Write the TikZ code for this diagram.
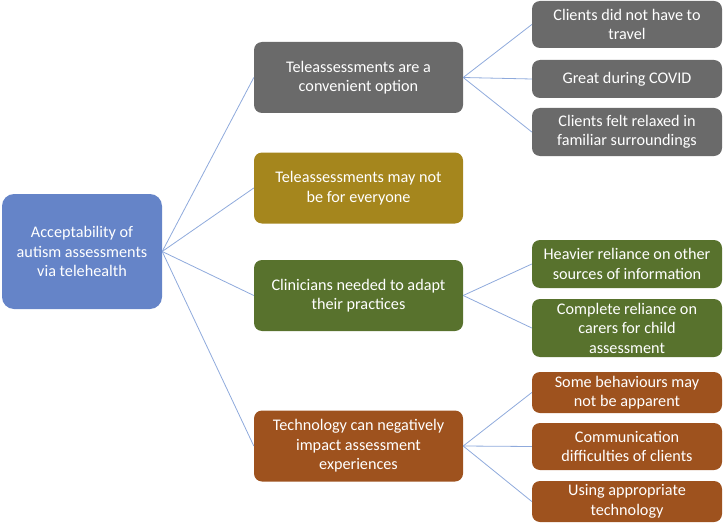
\documentclass[tikz,border=0pt]{standalone}
\usepackage{fontspec}
\setmainfont{Carlito}
\usepackage{tikz}
\usetikzlibrary{calc}
\definecolor{rootblue}{HTML}{6584C8}
\definecolor{convgray}{HTML}{6A6A6A}
\definecolor{mustard}{HTML}{A5861D}
\definecolor{adaptgreen}{HTML}{58722D}
\definecolor{techorange}{HTML}{9E521E}
\definecolor{linkblue}{HTML}{8FAADC}

\begin{document}
\begin{tikzpicture}[x=1pt, y=-1pt,
    box/.style={rounded corners=8pt, text=white, align=center, inner sep=0pt,
        font=\fontsize{16.2}{19.5}\selectfont},
    rootbox/.style={box, fill=rootblue, rounded corners=12pt, minimum width=160pt, minimum height=115pt},
    themebox/.style={box, minimum width=209pt, minimum height=71pt},
    subbox/.style={box, minimum width=190pt},
    link/.style={draw=linkblue, line width=0.8pt}]
    \useasboundingbox (0,0) rectangle (725,524);
    % Raiz
    \node[rootbox] (root) at (82,251.5) {Acceptability of\\autism assessments\\via telehealth};
    % Temas
    \node[themebox, fill=convgray] (conv) at (358.5,77.5) {Teleassessments are a\\convenient option};
    \node[themebox, fill=mustard] (notall) at (358.5,188) {Teleassessments may not\\be for everyone};
    \node[themebox, fill=adaptgreen] (adapt) at (358.5,295.5) {Clinicians needed to adapt\\their practices};
    \node[themebox, fill=techorange] (tech) at (358.5,446) {Technology can negatively\\impact assessment\\experiences};
    % Subtemas
    \node[subbox, fill=convgray, minimum height=47pt] (travel) at (627,24.5) {Clients did not have to\\travel};
    \node[subbox, fill=convgray, minimum height=38pt] (covid) at (627,79) {Great during COVID};
    \node[subbox, fill=convgray, minimum height=48pt] (relax) at (627,132) {Clients felt relaxed in\\familiar surroundings};
    \node[subbox, fill=adaptgreen, minimum height=48pt] (sources) at (627,264) {Heavier reliance on other\\sources of information};
    \node[subbox, fill=adaptgreen, minimum height=58pt] (carers) at (627,328) {Complete reliance on\\carers for child\\assessment};
    \node[subbox, fill=techorange, minimum height=41pt] (behav) at (627,392.5) {Some behaviours may\\not be apparent};
    \node[subbox, fill=techorange, minimum height=47pt] (comm) at (627,446.5) {Communication\\difficulties of clients};
    \node[subbox, fill=techorange, minimum height=41pt] (usetech) at (627,501.5) {Using appropriate\\technology};
    % Ligacoes
    \foreach \t in {conv, notall, adapt, tech}
        \draw[link] (root.east) -- (\t.west);
    \foreach \s in {travel, covid, relax}
        \draw[link] (conv.east) -- (\s.west);
    \foreach \s in {sources, carers}
        \draw[link] (adapt.east) -- (\s.west);
    \foreach \s in {behav, comm, usetech}
        \draw[link] (tech.east) -- (\s.west);
\end{tikzpicture}
\end{document}
